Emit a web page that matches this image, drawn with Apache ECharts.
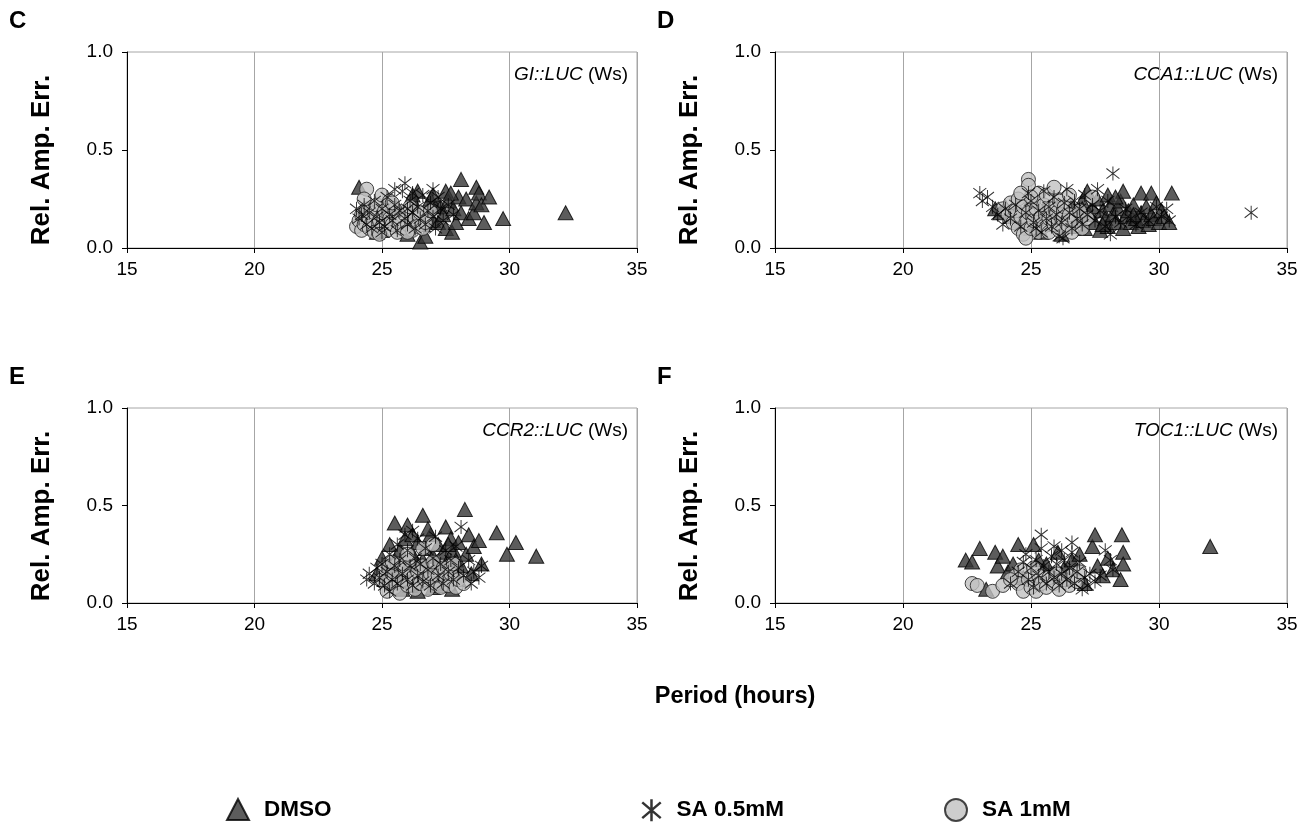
<!DOCTYPE html>
<html><head><meta charset="utf-8">
<script src="https://cdn.jsdelivr.net/npm/echarts@6/dist/echarts.min.js"></script>
<style>html,body{margin:0;padding:0;background:#fff}#c{width:1312px;height:829px}</style>
</head><body><div id="c"></div>
<script>
// ---- data ----
const panelLetters = ['C','D','E','F'];
const geneNames = ['GI::LUC','CCA1::LUC','CCR2::LUC','TOC1::LUC'];
const seriesNames = ['DMSO','SA 0.5mM','SA 1mM'];
const xTicks = [15,20,25,30,35];
const yTicks = [0.0,0.5,1.0];

const C_DMSO = [[24.1,0.31],[24.3,0.2],[24.6,0.12],[24.8,0.08],[25.0,0.09],[25.2,0.18],[25.4,0.13],[25.6,0.2],[25.8,0.11],[26.0,0.07],[26.1,0.16],[26.3,0.22],[26.4,0.29],[26.5,0.03],[26.6,0.12],[26.7,0.06],[26.8,0.19],[26.9,0.25],[27.0,0.14],[27.1,0.21],[27.2,0.13],[27.3,0.21],[27.4,0.17],[27.5,0.29],[27.5,0.1],[27.6,0.24],[27.75,0.08],[27.8,0.2],[27.9,0.13],[28.0,0.26],[28.1,0.35],[28.1,0.18],[28.3,0.25],[28.4,0.15],[28.6,0.18],[28.7,0.31],[28.7,0.23],[28.8,0.28],[28.9,0.22],[29.0,0.13],[29.2,0.26],[29.75,0.15],[32.2,0.18],[26.2,0.27],[27.0,0.27],[27.7,0.28]];
const C_SA1 = [[24.0,0.11],[24.1,0.14],[24.2,0.17],[24.2,0.09],[24.3,0.12],[24.4,0.3],[24.4,0.2],[24.5,0.15],[24.5,0.1],[24.6,0.13],[24.7,0.18],[24.7,0.08],[24.8,0.22],[24.9,0.14],[25.0,0.27],[25.0,0.11],[25.1,0.19],[25.3,0.24],[25.2,0.09],[25.3,0.15],[25.4,0.12],[25.5,0.2],[25.6,0.08],[25.7,0.14],[25.8,0.1],[25.9,0.17],[26.0,0.12],[26.1,0.21],[26.2,0.09],[26.3,0.15],[26.4,0.11],[26.5,0.18],[26.6,0.1],[26.7,0.13],[26.9,0.19],[24.3,0.25],[25.4,0.23],[24.9,0.07],[26.0,0.08]];
const C_SA05 = [[24.0,0.2],[24.1,0.15],[24.3,0.22],[24.4,0.12],[24.5,0.18],[24.6,0.1],[24.7,0.24],[24.8,0.16],[24.9,0.13],[25.0,0.2],[25.1,0.11],[25.2,0.26],[25.3,0.17],[25.4,0.14],[25.5,0.22],[25.6,0.09],[25.7,0.19],[25.8,0.29],[25.9,0.33],[25.9,0.15],[26.0,0.12],[26.1,0.24],[26.2,0.18],[26.3,0.1],[26.4,0.21],[26.5,0.15],[26.6,0.27],[26.7,0.12],[26.8,0.19],[26.9,0.23],[27.0,0.16],[27.1,0.1],[27.2,0.26],[27.3,0.2],[27.4,0.14],[27.6,0.22],[27.8,0.17],[25.5,0.3],[26.2,0.28],[24.2,0.17],[25.0,0.08],[26.0,0.2],[27.0,0.3]];

const D_DMSO = [[23.6,0.2],[23.8,0.18],[24.0,0.21],[24.2,0.16],[24.4,0.19],[24.6,0.14],[24.8,0.2],[25.0,0.1],[25.2,0.15],[25.4,0.08],[25.6,0.18],[25.8,0.12],[26.0,0.21],[26.2,0.07],[26.3,0.16],[26.5,0.11],[26.6,0.22],[26.8,0.14],[26.9,0.19],[27.0,0.24],[27.1,0.1],[27.2,0.29],[27.3,0.17],[27.4,0.21],[27.5,0.13],[27.6,0.25],[27.7,0.09],[27.8,0.19],[27.9,0.15],[28.0,0.27],[28.0,0.11],[28.1,0.22],[28.2,0.17],[28.3,0.13],[28.4,0.2],[28.5,0.24],[28.6,0.29],[28.6,0.1],[28.7,0.16],[28.8,0.19],[28.9,0.13],[29.0,0.22],[29.1,0.15],[29.2,0.11],[29.3,0.28],[29.3,0.18],[29.4,0.14],[29.5,0.21],[29.6,0.12],[29.7,0.28],[29.7,0.17],[29.8,0.15],[29.9,0.23],[30.0,0.13],[30.1,0.19],[30.2,0.16],[30.4,0.13],[30.5,0.28],[27.0,0.2],[28.3,0.26],[26.0,0.15],[25.5,0.2],[29.0,0.17],[27.8,0.12]];
const D_SA1 = [[23.9,0.2],[24.1,0.17],[24.2,0.23],[24.3,0.13],[24.4,0.19],[24.5,0.1],[24.5,0.25],[24.6,0.16],[24.7,0.21],[24.7,0.07],[24.8,0.05],[24.8,0.13],[24.9,0.35],[24.9,0.32],[24.9,0.18],[25.0,0.1],[25.1,0.24],[25.1,0.14],[25.2,0.2],[25.3,0.08],[25.3,0.28],[25.4,0.16],[25.5,0.22],[25.5,0.11],[25.6,0.27],[25.7,0.15],[25.7,0.08],[25.8,0.2],[25.9,0.31],[25.9,0.12],[26.0,0.18],[26.1,0.24],[26.1,0.09],[26.2,0.15],[26.3,0.21],[26.4,0.12],[26.5,0.17],[26.6,0.08],[26.7,0.14],[26.9,0.19],[27.0,0.1],[27.2,0.15],[27.4,0.26],[25.0,0.26],[24.6,0.28],[26.5,0.27]];
const D_SA05 = [[23.0,0.28],[23.1,0.24],[23.3,0.26],[23.5,0.21],[23.7,0.17],[23.9,0.12],[24.0,0.2],[24.2,0.15],[24.4,0.22],[24.6,0.11],[24.8,0.18],[25.0,0.24],[25.1,0.13],[25.3,0.19],[25.4,0.08],[25.5,0.29],[25.6,0.15],[25.7,0.21],[25.8,0.11],[25.9,0.26],[26.0,0.17],[26.1,0.06],[26.2,0.13],[26.25,0.05],[26.3,0.23],[26.4,0.3],[26.5,0.18],[26.6,0.1],[26.7,0.24],[26.8,0.15],[26.9,0.2],[27.0,0.12],[27.1,0.27],[27.2,0.17],[27.4,0.22],[27.5,0.14],[27.6,0.3],[27.7,0.19],[27.9,0.11],[28.0,0.24],[28.1,0.07],[28.2,0.38],[28.3,0.16],[28.5,0.13],[28.7,0.2],[28.9,0.15],[29.1,0.12],[29.3,0.18],[29.6,0.14],[29.9,0.21],[30.1,0.16],[30.3,0.2],[30.4,0.14],[33.6,0.18],[24.9,0.28],[25.2,0.1]];

const E_DMSO = [[24.8,0.15],[25.0,0.23],[25.1,0.12],[25.2,0.18],[25.3,0.3],[25.4,0.1],[25.5,0.41],[25.5,0.22],[25.6,0.16],[25.7,0.27],[25.8,0.13],[25.9,0.33],[26.0,0.4],[26.0,0.2],[26.1,0.09],[26.2,0.25],[26.3,0.17],[26.4,0.31],[26.5,0.12],[26.6,0.45],[26.6,0.22],[26.7,0.28],[26.8,0.15],[26.9,0.35],[27.0,0.08],[27.0,0.24],[27.1,0.19],[27.2,0.3],[27.3,0.13],[27.4,0.26],[27.5,0.39],[27.5,0.2],[27.6,0.1],[27.7,0.33],[27.8,0.17],[27.8,0.27],[27.9,0.22],[28.0,0.12],[28.0,0.31],[28.1,0.19],[28.25,0.48],[28.3,0.25],[28.4,0.35],[28.5,0.15],[28.6,0.29],[28.8,0.32],[28.9,0.2],[29.5,0.36],[29.9,0.25],[30.25,0.31],[31.05,0.24],[26.2,0.35],[27.2,0.09],[25.8,0.07],[26.8,0.38],[27.6,0.3],[25.3,0.2],[26.4,0.2],[26.4,0.06],[27.75,0.07]];
const E_SA1 = [[25.0,0.12],[25.1,0.18],[25.2,0.06],[25.3,0.1],[25.4,0.15],[25.5,0.08],[25.6,0.2],[25.7,0.05],[25.8,0.12],[25.9,0.17],[26.0,0.09],[26.1,0.22],[26.2,0.13],[26.3,0.07],[26.4,0.16],[26.5,0.1],[26.6,0.19],[26.7,0.12],[26.8,0.07],[26.9,0.15],[27.0,0.21],[27.1,0.1],[27.2,0.14],[27.3,0.08],[27.4,0.18],[27.5,0.12],[27.6,0.09],[27.7,0.15],[27.9,0.08],[28.0,0.12],[28.2,0.1],[26.0,0.25],[26.6,0.28],[27.0,0.3],[25.4,0.21],[27.8,0.2]];
const E_SA05 = [[24.4,0.12],[24.5,0.15],[24.7,0.1],[24.8,0.18],[24.9,0.13],[25.0,0.2],[25.1,0.09],[25.2,0.16],[25.3,0.25],[25.4,0.12],[25.5,0.19],[25.6,0.3],[25.6,0.1],[25.7,0.22],[25.8,0.15],[25.9,0.35],[26.0,0.12],[26.0,0.27],[26.1,0.19],[26.2,0.09],[26.3,0.23],[26.4,0.33],[26.4,0.14],[26.5,0.2],[26.6,0.11],[26.7,0.28],[26.8,0.17],[26.9,0.09],[27.0,0.23],[27.1,0.34],[27.2,0.14],[27.3,0.2],[27.4,0.1],[27.5,0.27],[27.6,0.16],[27.7,0.22],[27.8,0.12],[27.9,0.29],[28.0,0.18],[28.1,0.39],[28.2,0.14],[28.4,0.22],[28.5,0.1],[28.6,0.16],[28.8,0.13],[28.9,0.19],[26.2,0.37],[25.3,0.06]];

const F_DMSO = [[22.45,0.22],[22.7,0.21],[23.0,0.28],[23.25,0.07],[23.6,0.26],[23.7,0.19],[23.9,0.24],[24.1,0.16],[24.5,0.3],[24.7,0.13],[25.1,0.3],[25.3,0.22],[25.6,0.2],[25.9,0.14],[26.05,0.26],[26.3,0.18],[26.6,0.22],[26.9,0.25],[27.1,0.1],[27.4,0.29],[27.5,0.35],[27.6,0.19],[27.8,0.14],[28.0,0.23],[28.2,0.17],[28.55,0.35],[28.6,0.26],[28.6,0.2],[28.5,0.12],[32.0,0.29],[24.3,0.2],[26.4,0.12]];
const F_SA1 = [[22.7,0.1],[22.9,0.09],[23.5,0.06],[23.9,0.09],[24.4,0.14],[24.5,0.1],[24.6,0.17],[24.7,0.06],[24.9,0.12],[25.0,0.08],[25.2,0.06],[25.3,0.14],[25.4,0.1],[25.6,0.08],[25.7,0.13],[25.9,0.1],[26.0,0.15],[26.1,0.07],[26.3,0.12],[26.5,0.09],[26.6,0.14],[26.8,0.11],[26.9,0.16],[25.1,0.18],[24.2,0.12]];
const F_SA05 = [[24.2,0.1],[24.5,0.16],[24.7,0.21],[24.8,0.25],[24.9,0.12],[25.0,0.18],[25.1,0.08],[25.2,0.22],[25.3,0.14],[25.4,0.35],[25.4,0.28],[25.5,0.19],[25.6,0.1],[25.7,0.16],[25.8,0.24],[25.9,0.13],[26.0,0.2],[26.1,0.09],[26.2,0.15],[26.3,0.22],[26.4,0.12],[26.5,0.18],[26.6,0.31],[26.6,0.26],[26.7,0.1],[26.8,0.16],[26.9,0.21],[27.0,0.07],[27.1,0.13],[27.2,0.09],[27.3,0.15],[27.5,0.11],[27.7,0.14],[27.9,0.27],[28.1,0.22],[28.2,0.17],[25.9,0.29],[26.2,0.27]];

const panelData = [
  {DMSO: C_DMSO, SA05: C_SA05, SA1: C_SA1},
  {DMSO: D_DMSO, SA05: D_SA05, SA1: D_SA1},
  {DMSO: E_DMSO, SA05: E_SA05, SA1: E_SA1},
  {DMSO: F_DMSO, SA05: F_SA05, SA1: F_SA1}
];

// ---- layout / styles ----
const FONT = '"Liberation Sans", Arial, sans-serif';
const grids = [
  {left:127, top:52, width:510, height:196},
  {left:775, top:52, width:512, height:196},
  {left:127, top:408, width:510, height:195},
  {left:775, top:408, width:512, height:195}
];
const ASTER = 'path://M5,0L5,10M0.8,1.4L9.2,8.6M0.8,8.6L9.2,1.4';
const styleDMSO = {symbol:'triangle', symbolSize:[15,14], itemStyle:{color:'#333333', borderColor:'#000', borderWidth:1}};
const styleSA1 = {symbol:'circle', symbolSize:14, itemStyle:{color:'#c0c0c0', borderColor:'#1a1a1a', borderWidth:1}};
const styleSA05 = {symbol:ASTER, symbolSize:[13,14], itemStyle:{color:'transparent', borderColor:'#000', borderWidth:1}};

const xAxes = [], yAxes = [], series = [], graphics = [];
grids.forEach((g, i) => {
  xAxes.push({
    type:'value', gridIndex:i, min:xTicks[0], max:xTicks[xTicks.length-1], interval:5,
    axisLine:{onZero:false, lineStyle:{color:'#000', width:1}},
    axisTick:{show:true, inside:false, length:5, lineStyle:{color:'#000'}},
    axisLabel:{color:'#000', fontFamily:FONT, fontSize:19, margin:12},
    splitLine:{show:true, lineStyle:{color:'#a6a6a6', width:1}}
  });
  yAxes.push({
    type:'value', gridIndex:i, min:yTicks[0], max:yTicks[yTicks.length-1], interval:0.5,
    axisLine:{show:true, lineStyle:{color:'#000', width:1}},
    axisTick:{show:true, inside:false, length:5, lineStyle:{color:'#000'}},
    axisLabel:{color:'#000', fontFamily:FONT, fontSize:19, margin:14, formatter:v=>v.toFixed(1)},
    splitLine:{show:false}
  });
  const d = panelData[i];
  series.push(Object.assign({type:'scatter', name:'DMSO', xAxisIndex:i, yAxisIndex:i, data:d.DMSO, z:2}, styleDMSO));
  series.push(Object.assign({type:'scatter', name:'SA 1mM', xAxisIndex:i, yAxisIndex:i, data:d.SA1, z:3}, styleSA1));
  series.push(Object.assign({type:'scatter', name:'SA 0.5mM', xAxisIndex:i, yAxisIndex:i, data:d.SA05, z:4}, styleSA05));

  // panel letter
  graphics.push({type:'text', x:g.left-118, y:g.top-31, style:{text:panelLetters[i], font:'bold 24px '+FONT, fill:'#000', align:'left', verticalAlign:'middle'}});
  // y axis title
  graphics.push({type:'text', x:g.left-85, y:g.top+108, rotation:Math.PI/2, style:{text:'Rel. Amp. Err.', font:'bold 26px '+FONT, fill:'#000', align:'center', verticalAlign:'middle'}});
  // gene label
  graphics.push({type:'text', x:g.left+g.width-9, y:g.top+23, style:{
    text:'{i|'+geneNames[i]+'} (Ws)', font:'19px '+FONT, fill:'#000', align:'right', verticalAlign:'middle',
    rich:{i:{fontStyle:'italic', fontFamily:FONT, fontSize:19, fill:'#000'}}
  }});
});
graphics.push({type:'text', x:735, y:697, style:{text:'Period (hours)', font:'bold 23.5px '+FONT, fill:'#000', align:'center', verticalAlign:'middle'}});

const legendText = {color:'#000', fontFamily:FONT, fontSize:22.5, fontWeight:'bold', padding:[0,0,0,10]};
const legends = [
  {data:[{name:'DMSO'}], left:226, top:798, itemWidth:22, itemHeight:21},
  {data:[{name:'SA 0.5mM', itemStyle:{borderWidth:2.5}}], left:641, top:798, itemWidth:20, itemHeight:22},
  {data:[{name:'SA 1mM'}], left:944, top:798, itemWidth:22, itemHeight:22}
].map(l => Object.assign({orient:'horizontal', selectedMode:false, textStyle:legendText, itemGap:0, padding:0}, l));

const chart = echarts.init(document.getElementById('c'), null, {renderer:'canvas'});
chart.setOption({
  animation:false,
  backgroundColor:'#fff',
  grid: grids.map(g => Object.assign({show:true, borderColor:'#a6a6a6', borderWidth:1, backgroundColor:'transparent', containLabel:false}, g)),
  xAxis: xAxes,
  yAxis: yAxes,
  series: series,
  legend: legends,
  graphic: graphics
});
</script></body></html>
